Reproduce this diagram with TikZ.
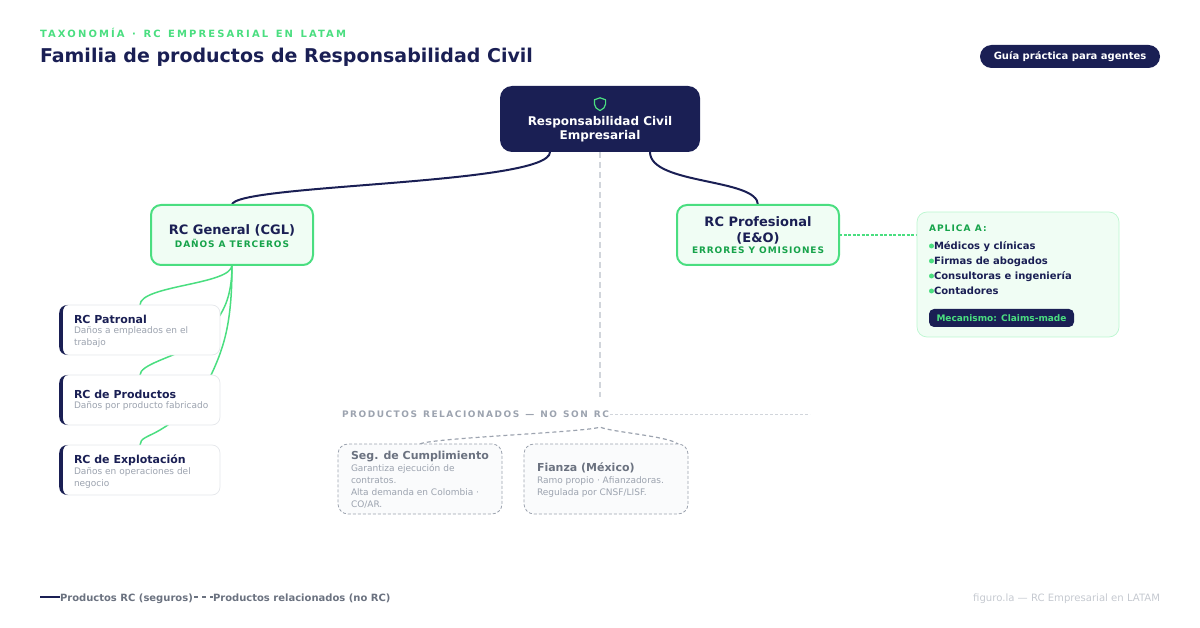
\documentclass[tikz,border=0pt]{standalone}
\usepackage{fontspec}
\setmainfont{DejaVu Sans}
\usetikzlibrary{backgrounds}
\definecolor{navy}{HTML}{1A1F54}
\definecolor{mint}{HTML}{4ADE80}
\definecolor{forest}{HTML}{16A34A}
\definecolor{pale}{HTML}{F0FDF4}
\definecolor{paleedge}{HTML}{BBF7D0}
\definecolor{slate}{HTML}{6B7280}
\definecolor{ash}{HTML}{9CA3AF}
\definecolor{rule}{HTML}{D1D5DB}
\definecolor{brandgrey}{HTML}{C5C9D0}
\definecolor{edgegrey}{HTML}{E5E7EB}
\definecolor{mist}{HTML}{FAFBFC}
\newcommand{\fs}[2]{\fontsize{#1}{#2}\selectfont}
\newcommand{\wordgap}[1]{\spaceskip=#1\relax}
\tikzset{%
  every box/.style={
    inner sep=0,
    outer sep=0,
    rounded corners=10pt
  },
  branch/.style={
    every box/.try,
    draw=mint,
    fill=pale,
    line width=2pt,
    minimum width=162pt,
    minimum height=60pt
  },
  leaf/.style={
    every box/.try,
    rounded corners=8pt,
    draw=edgegrey,
    fill=white,
    line width=0.7pt,
    minimum width=160pt,
    minimum height=50pt
  },
  related/.style={
    every box/.try,
    draw=ash,
    fill=mist,
    dash pattern=on 3pt off 2pt,
    line width=0.8pt,
    minimum width=164pt,
    minimum height=70pt
  },
  txt/.style={
    inner sep=0,
    outer sep=0,
    anchor=base west
  },
  leaf title/.style={txt, text=navy, font=\fs{11}{14}\bfseries},
  related title/.style={txt, text=slate, font=\fs{11}{14}\bfseries},
  leaf note/.style={txt, text=ash, font=\fs{9}{12}},
  apply item/.style={txt, text=navy, font=\fs{10}{14}\bfseries},
  branch title/.style={
    inner sep=0, outer sep=0, align=center, text=navy,
    font=\fs{13}{15.5}\bfseries
  },
  branch sub/.style={
    inner sep=0, outer sep=0, text=forest,
    font=\fs{9}{12}\bfseries\addfontfeature{LetterSpace=10}
  },
  link/.style={navy, line width=2pt},
  sublink/.style={mint, line width=1.5pt},
}

\begin{document}
\begin{tikzpicture}[x=1pt, y=-1pt]
\useasboundingbox (0,0) rectangle (1200,628);

% header
\node [txt, text=mint, font=\fs{10}{12}\bfseries\addfontfeature{LetterSpace=21}\wordgap{7.5pt}] (eyebrow) at (40,38) {TAXONOMÍA · RC EMPRESARIAL EN LATAM};
\node [txt, text=navy, font=\fs{19}{24}\bfseries] (heading) at (40,63) {Familia de productos de Responsabilidad Civil};
\node [every box/.try, rounded corners=11.5pt, fill=navy, minimum width=180pt, minimum height=23pt, text=white, font=\fs{10}{12}\bfseries] (guide) at (1070,56.5) {Guía práctica para agentes};

% root
\node [every box/.try, rounded corners=12pt, fill=navy, minimum width=200pt, minimum height=66pt] (root) at (600,119) {};
\node [inner sep=0, outer sep=0, align=center, text=white, font=\fs{12}{14}\bfseries] (root-text) at (600,129.5) {Responsabilidad Civil\\Empresarial};
\draw [mint, line width=1.2pt, line join=round] (600,97.8) -- (605.6,99.8) -- (605.6,104)
  .. controls (605.6,107) and (603,109.4) .. (600,110.6)
  .. controls (597,109.4) and (594.4,107) .. (594.4,104) -- (594.4,99.8) -- cycle;

% branches
\node [branch] (general) at (232,235) {};
\node [branch title] (general-text) at (232,230) {RC General (CGL)};
\node [branch sub] (general-sub) at (232,243) {DAÑOS A TERCEROS};
\node [branch] (profesional) at (758,235) {};
\node [branch title] (profesional-text) at (758,230.5) {RC Profesional\\(E\&O)};
\node [branch sub] (profesional-sub) at (758,250) {ERRORES Y OMISIONES};

% leaf cards
\foreach \m/\y in {patronal/330, productos/400, explotacion/470}
{
  \node [leaf] (\m) at (140,\y) {};
  \begin{scope}[shift={(\m.north west)}]
    \fill [navy] (8,0) .. controls (3,0) and (-0.8,3) .. (-0.8,8) -- (-0.8,42)
      .. controls (-0.8,47) and (3,50) .. (8,50)
      .. controls (5,50) and (2.8,47) .. (2.8,42) -- (2.8,8)
      .. controls (2.8,3) and (5,0) .. (8,0) -- cycle;
  \end{scope}
}
\node [leaf title] (patronal-title) at (74,323.5) {RC Patronal};
\node [leaf note] (patronal-a) at (74,334) {Daños a empleados en el};
\node [leaf note] (patronal-b) at (74,346) {trabajo};
\node [leaf title] (productos-title) at (74,398.5) {RC de Productos};
\node [leaf note] (productos-a) at (74,409) {Daños por producto fabricado};
\node [leaf title] (explotacion-title) at (74,463.5) {RC de Explotación};
\node [leaf note] (explotacion-a) at (74,474) {Daños en operaciones del};
\node [leaf note] (explotacion-b) at (74,486) {negocio};

% aplica box
\node [every box/.try, draw=paleedge, fill=pale, line width=0.7pt, minimum width=202pt, minimum height=125pt] (aplica) at (1018,274.5) {};
\node [txt, text=forest, font=\fs{9}{12}\bfseries\addfontfeature{LetterSpace=12}] (aplica-title) at (929,231.5) {APLICA A:};
\foreach \t [count=\i] in {Médicos y clínicas, Firmas de abogados, Consultoras e ingeniería, Contadores}
{
  \fill [mint] (931.5,231+\i*15) circle (2.5pt);
  \node [apply item] (item-\i) at (934,235+\i*15) {\t};
}
\node [every box/.try, rounded corners=5pt, fill=navy, minimum width=145pt, minimum height=18pt, text=mint, font=\fs{9}{12}\bfseries] (mecanismo) at (1001.5,318) {Mecanismo: Claims-made};

% related products
\node [txt, text=ash, font=\fs{9}{12}\bfseries\addfontfeature{LetterSpace=17}\wordgap{6pt}] (related-label) at (342,417.5) {PRODUCTOS RELACIONADOS — NO SON RC};
\coordinate (related-end) at (810,414);
\coordinate (related-start) at (610,414);
\coordinate (stem-end) at (600,397);
\coordinate (apex) at (600,427);
\node [related] (cumplimiento) at (420,479) {};
\node [related] (fianza) at (606,479) {};
\node [related title] (cumplimiento-title) at (351,459) {Seg. de Cumplimiento};
\foreach \t [count=\i] in {Garantiza ejecución de, contratos., Alta demanda en Colombia ·, CO/AR.}
  \node [leaf note] (cumplimiento-\i) at (351,459+\i*12) {\t};
\node [related title] (fianza-title) at (537,471) {Fianza (México)};
\foreach \t [count=\i] in {Ramo propio · Afianzadoras., Regulada por CNSF/LISF.}
  \node [leaf note] (fianza-\i) at (537,471+\i*12) {\t};

% footer
\coordinate (legend-a) at (40,597);
\coordinate (legend-b) at (60,597);
\coordinate (legend-c) at (194,597);
\coordinate (legend-d) at (213,597);
\node [txt, text=slate, font=\fs{10}{12}\bfseries] (legend-rc) at (60,601) {Productos RC (seguros)};
\node [txt, text=slate, font=\fs{10}{12}\bfseries] (legend-no) at (213,601) {Productos relacionados (no RC)};
\node [inner sep=0, outer sep=0, anchor=base east, text=brandgrey, font=\fs{10.1}{12}] (brand) at (1160,601) {figuro.la — RC Empresarial en LATAM};

\draw [link] (legend-a) -- (legend-b);
\draw [slate, line width=1.5pt, dash pattern=on 4pt off 4pt] (legend-c) -- (legend-d);

% connectors, under the cards
\begin{scope}[on background layer]
\draw [link] ([xshift=-50pt]root.south) .. controls (550,185) and (232,184) .. (general.north);
\draw [link] ([xshift=50pt]root.south) .. controls (650,185) and (758,178) .. (profesional.north);
\draw [rule, line width=1.5pt, dash pattern=on 6pt off 4pt] (root.south) -- (stem-end);
\draw [sublink] (general.south) .. controls (232,285) and (140,285) .. (patronal.north);
\draw [sublink] (general.south) .. controls (232,310) and (215,325) .. (190,347) .. controls (170,358) and (140,365) .. (productos.north);
\draw [sublink] (general.south) .. controls (232,320) and (225,345) .. (212,373) .. controls (200,400) and (180,418) .. (160,430) .. controls (148,437) and (140,438) .. (explotacion.north);
\draw [mint, line width=1.2pt, dash pattern=on 3pt off 1.5pt] (profesional.east) -- (aplica.west |- profesional.east);
\draw [rule, line width=0.8pt, dash pattern=on 3pt off 2pt] (related-start) -- (related-end);
\draw [ash, line width=1.2pt, dash pattern=on 4pt off 3pt] (cumplimiento.north) .. controls (430,438) and (590,432) .. (apex) .. controls (610,432) and (668,436) .. ([xshift=72pt]fianza.north);
\end{scope}

\end{tikzpicture}
\end{document}
